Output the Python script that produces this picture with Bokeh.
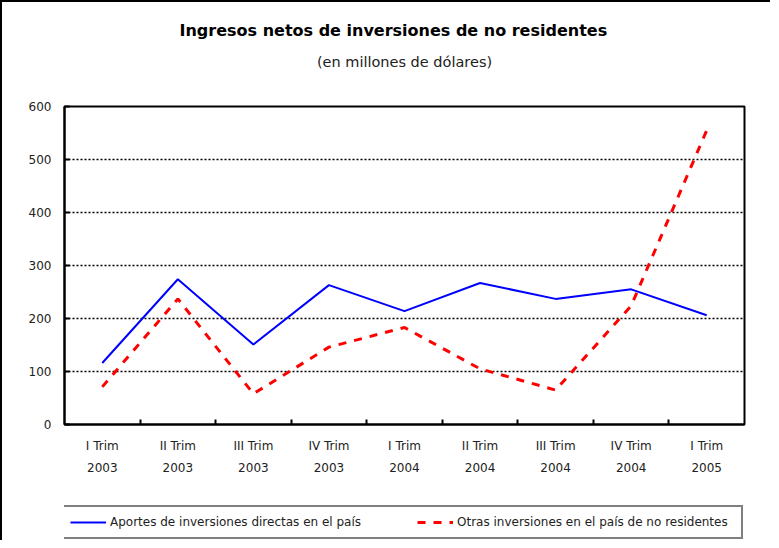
from bokeh.plotting import figure
from bokeh.layouts import column
from bokeh.models import Range1d, FixedTicker, LinearAxis, Legend, LegendItem
from bokeh.embed import file_html
from bokeh.resources import INLINE

quarters = ["I Trim", "II Trim", "III Trim", "IV Trim", "I Trim",
            "II Trim", "III Trim", "IV Trim", "I Trim"]
years = ["2003", "2003", "2003", "2003", "2004", "2004", "2004", "2004", "2005"]
aportes = [116, 274, 151, 263, 214, 267, 237, 255, 206]
otras = [71, 237, 58, 146, 183, 105, 65, 224, 555]
y_ticks = [0, 100, 200, 300, 400, 500, 600]
series_names = ["Aportes de inversiones directas en el país",
                "Otras inversiones en el país de no residentes"]
title_text = "Ingresos netos de inversiones de no residentes"
subtitle_text = "(en millones de dólares)"

FONT = "DejaVu Sans"
TXT = "#222222"
BLUE = "#0000FF"
RED = "#FF0000"

n = len(quarters)
xc = [2 * i + 1 for i in range(n)]
bounds = [2 * i for i in range(1, n)]

p = figure(width=768, height=495, output_backend="svg", toolbar_location=None,
           x_range=Range1d(0, 2 * n), y_range=Range1d(0, 600),
           min_border_left=62, min_border_right=26, min_border_top=104,
           min_border_bottom=73, background_fill_color="white",
           border_fill_color="white")
p.outline_line_color = "black"
p.outline_line_width = 2

# main title (outermost above panel)
p.title.text = title_text
p.title.align = "left"
p.title.offset = 115
p.title.standoff = 21
p.title.text_font = FONT
p.title.text_font_size = "16px"
p.title.text_font_style = "bold"
p.title.text_color = "black"

# subtitle as label of a bare axis above the frame
sub_axis = LinearAxis(ticker=FixedTicker(ticks=[]), axis_label=subtitle_text,
                      axis_label_standoff=37, axis_label_text_font=FONT,
                      axis_label_text_font_size="14.5px",
                      axis_label_text_font_style="normal",
                      axis_label_text_color=TXT, axis_line_color=None,
                      major_tick_line_color=None, minor_tick_line_color=None,
                      major_tick_in=0, major_tick_out=0, major_label_standoff=0)
p.add_layout(sub_axis, "above")

# grid
p.xgrid.visible = False
p.ygrid.ticker = FixedTicker(ticks=y_ticks[1:-1])
p.ygrid.grid_line_color = "black"
p.ygrid.grid_line_dash = "2 2"
p.ygrid.grid_line_width = 1.5

# y axis
p.yaxis.ticker = FixedTicker(ticks=y_ticks)
p.yaxis.major_tick_in = 5
p.yaxis.major_tick_out = 0
p.yaxis.major_tick_line_width = 2
p.yaxis.minor_tick_line_color = None
p.yaxis.axis_line_width = 2
p.yaxis.major_label_standoff = 13
p.yaxis.major_label_text_font = FONT
p.yaxis.major_label_text_font_size = "12px"
p.yaxis.major_label_text_color = TXT

# x axis (boundary ticks)
p.xaxis.ticker = FixedTicker(ticks=bounds)
p.xaxis.major_tick_in = 5
p.xaxis.major_tick_out = 0
p.xaxis.major_tick_line_width = 2
p.xaxis.minor_tick_line_color = None
p.xaxis.axis_line_width = 2
p.xaxis.major_label_text_font_size = "0px"
p.xaxis.major_label_standoff = 0
p.xaxis.major_label_overrides = {b: "" for b in bounds}

ax_q = LinearAxis(ticker=FixedTicker(ticks=xc),
                  major_label_overrides={x: q for x, q in zip(xc, quarters)},
                  axis_line_color=None, major_tick_line_color=None,
                  minor_tick_line_color=None, major_tick_in=0, major_tick_out=0,
                  major_label_standoff=14, major_label_text_font=FONT,
                  major_label_text_font_size="12px", major_label_text_color=TXT)
ax_y = LinearAxis(ticker=FixedTicker(ticks=xc),
                  major_label_overrides={x: y for x, y in zip(xc, years)},
                  axis_line_color=None, major_tick_line_color=None,
                  minor_tick_line_color=None, major_tick_in=0, major_tick_out=0,
                  major_label_standoff=7, major_label_text_font=FONT,
                  major_label_text_font_size="12px", major_label_text_color=TXT)
p.add_layout(ax_q, "below")
p.add_layout(ax_y, "below")

p.line(xc, aportes, line_color=BLUE, line_width=2)
p.line(xc, otras, line_color=RED, line_width=3, line_dash="8 8")

# legend strip below the chart
pl = figure(width=768, height=43, output_backend="svg", toolbar_location=None,
            x_axis_type=None, y_axis_type=None,
            x_range=Range1d(0, 1), y_range=Range1d(0, 1),
            min_border=0, min_border_left=0, min_border_right=0,
            min_border_top=0, min_border_bottom=0,
            background_fill_color="white", border_fill_color="white")
pl.outline_line_color = None
k1 = pl.line(xc, aportes, line_color=BLUE, line_width=2, visible=False)
k2 = pl.line(xc, otras, line_color=RED, line_width=3, line_dash="8 8", visible=False)

legend = Legend(items=[LegendItem(label=series_names[0], renderers=[k1]),
                       LegendItem(label=series_names[1], renderers=[k2])],
                orientation="horizontal", location=(-2, 1),
                border_line_color="black", border_line_width=2,
                background_fill_color="white", background_fill_alpha=1,
                padding=6, spacing=29, glyph_width=36, glyph_height=18,
                label_standoff=4, label_width=278, label_height=18,
                label_text_font=FONT, label_text_font_size="12px",
                label_text_color=TXT, margin=0, click_policy="none",
                inactive_fill_alpha=0)
pl.add_layout(legend, "center")

layout = column(p, pl, spacing=0)
layout.styles = {"border-left": "2px solid black", "border-top": "2px solid black"}

open("out.html", "w").write(file_html(layout, INLINE))
